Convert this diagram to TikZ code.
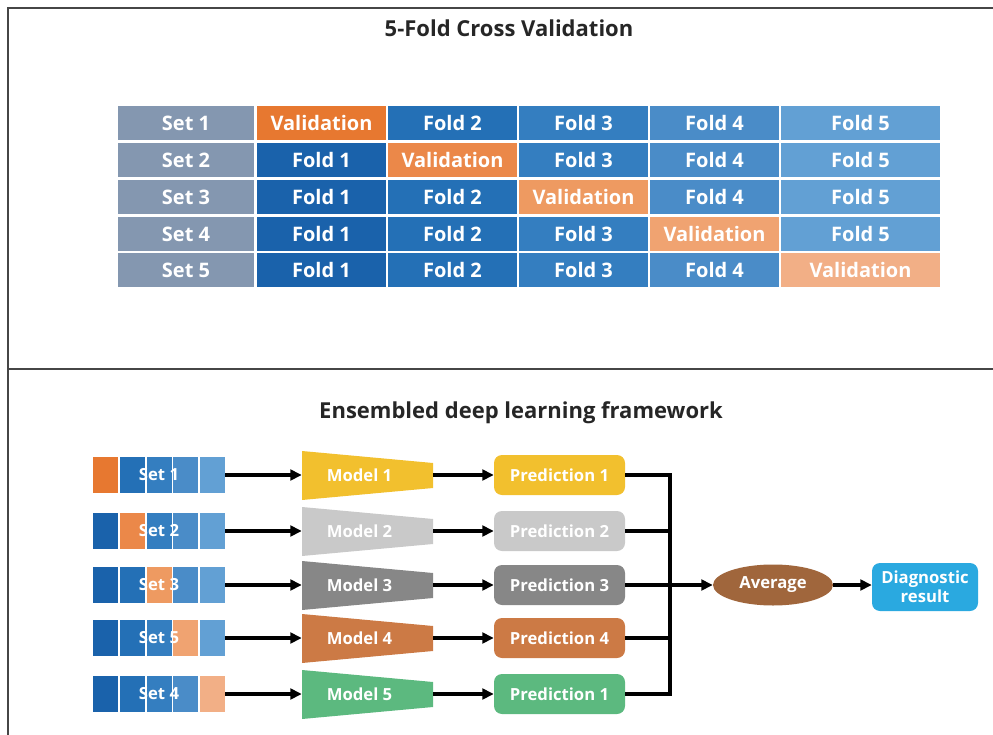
\documentclass[tikz,border=0pt]{standalone}
\usepackage{fontspec}
\setmainfont{Open Sans}
\usepackage{xcolor}
\usetikzlibrary{shapes.geometric, arrows.meta}

\definecolor{SetGray}{HTML}{8497B0}
\definecolor{T1}{HTML}{1A62AB}
\definecolor{T2}{HTML}{2470B6}
\definecolor{T3}{HTML}{347EC0}
\definecolor{T4}{HTML}{4A8CC8}
\definecolor{T5}{HTML}{62A0D4}
\definecolor{V1}{HTML}{E77830}
\definecolor{V2}{HTML}{EB8849}
\definecolor{V3}{HTML}{EE9A61}
\definecolor{V4}{HTML}{F0A371}
\definecolor{V5}{HTML}{F2AF86}
\definecolor{M1}{HTML}{F2C02E}
\definecolor{M2}{HTML}{C9C9C9}
\definecolor{M3}{HTML}{878787}
\definecolor{M4}{HTML}{CC7A45}
\definecolor{M5}{HTML}{5CB97F}
\definecolor{AvgBrown}{HTML}{A0663C}
\definecolor{DiagBlue}{HTML}{2AA9E0}

\begin{document}
\begin{tikzpicture}[x=0.75pt, y=-0.75pt, >={Triangle[length=8.5pt,width=8pt]},
  frame/.style={line width=1.5pt, gray!55!black},
  title/.style={text=black!85, font=\bfseries\fontsize{16.5}{18}\selectfont},
  cell/.style={text=white, font=\bfseries\fontsize{15}{16}\selectfont},
  lbl/.style={text=white, font=\bfseries\fontsize{12.5}{14}\selectfont},
  link/.style={line width=2.5pt, black},
  bar/.style={lbl, minimum width=99pt, minimum height=27pt, inner sep=0pt},
  model/.style={lbl, minimum width=98.25pt, minimum height=36.75pt, inner sep=0pt},
  pred/.style={lbl, rounded corners=6pt, minimum width=98.25pt, minimum height=30pt, inner sep=0pt},
]
\useasboundingbox (0,0) rectangle (993,735);

\draw[frame] (993,8) -- (8,8) -- (8,735);
\draw[frame] (8,369) -- (993,369);

\node[title] (title1) at (509,28) {5-Fold Cross Validation};
\node[title] (title2) at (521,413) {Ensembled deep learning framework};

\foreach \r/\yt in {1/106, 2/143, 3/180, 4/217, 5/253}{
  \fill[SetGray] (118,\yt) rectangle (254,\yt+34) node[midway, cell] (set\r) {Set \r};
  \foreach \c/\xl/\xr in {1/257/386, 2/388/517, 3/519/648, 4/650/779, 5/781/940}{
    \ifnum\c=\r \def\cellcol{V\r}\def\celltext{Validation}\else\def\cellcol{T\c}\def\celltext{Fold \c}\fi
    \fill[\cellcol] (\xl,\yt) rectangle (\xr,\yt+34) node[midway, cell] (t\r\c) {\celltext};
  }
}

\foreach \r/\y/\lab/\pn in {1/475/Set 1/1, 2/531/Set 2/2, 3/585/Set 3/3, 4/638/Set 5/4, 5/694/Set 4/1}{
  \foreach \c in {1,...,5}{
    \ifnum\c=\r \def\barcol{V\r}\else\def\barcol{T\c}\fi
    \fill[\barcol] ({93+26.8*(\c-1)},\y-18) rectangle ({118+26.8*(\c-1)},\y+18);
  }
  \node[bar] (bar\r) at (159,\y) {\lab};
  \fill[M\r] (302,\y-24) -- (433,\y-12) -- (433,\y+13) -- (302,\y+25) -- cycle;
  \node[model] (m\r) at (367.5,\y) {\hspace*{-12pt}Model \r};
  \node[pred, fill=M\r] (p\r) at (559.5,\y) {Prediction \pn};
  \draw[link,->] (bar\r) -- (m\r);
  \draw[link,->] (m\r) -- (p\r);
}

\node[ellipse, fill=AvgBrown, lbl, minimum width=90pt, minimum height=30.75pt, inner sep=0pt] (avg) at (773,585) {Average};
\node[rounded corners=6pt, fill=DiagBlue, lbl, align=center, minimum width=79.5pt, minimum height=36pt, inner sep=0pt] (diag) at (925,587) {Diagnostic\\result};

\coordinate (join) at (670,585);
\foreach \r in {1,2,4,5}
  \draw[link] (p\r.east) -| (join);
\draw[link,->] (p3) -- (avg);
\draw[link,->] (avg) -- (diag.west |- avg);
\end{tikzpicture}
\end{document}
